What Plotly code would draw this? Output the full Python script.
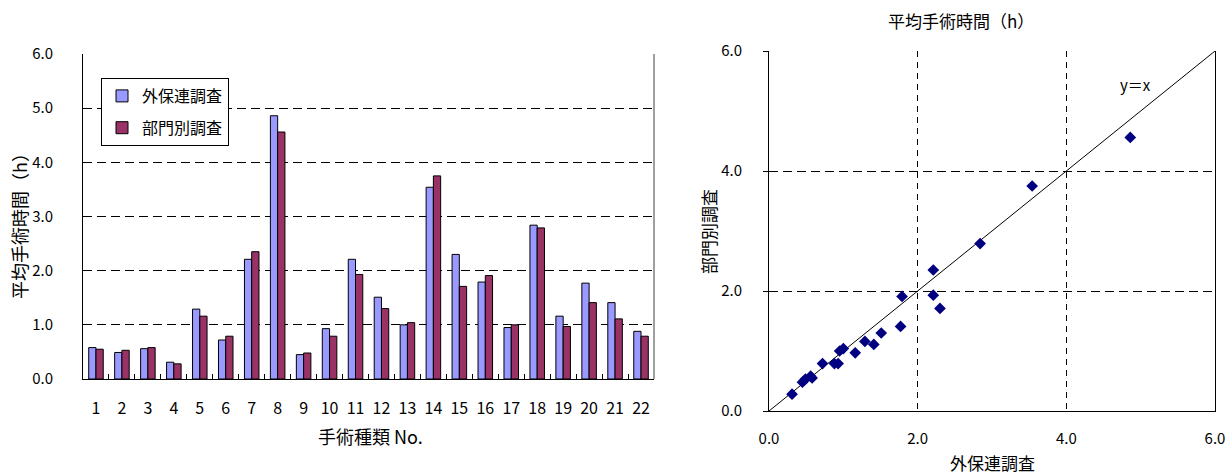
import plotly.graph_objects as go

# ---- data ----
categories = ["1", "2", "3", "4", "5", "6", "7", "8", "9", "10", "11",
              "12", "13", "14", "15", "16", "17", "18", "19", "20", "21", "22"]
gaihoren = [0.58, 0.49, 0.56, 0.31, 1.29, 0.72, 2.21, 4.86, 0.45, 0.93, 2.21,
            1.51, 1.00, 3.54, 2.30, 1.79, 0.95, 2.84, 1.16, 1.77, 1.41, 0.88]
bumon = [0.55, 0.53, 0.58, 0.28, 1.16, 0.79, 2.35, 4.56, 0.48, 0.79, 1.93,
         1.30, 1.04, 3.75, 1.71, 1.91, 1.00, 2.79, 0.97, 1.41, 1.11, 0.79]
series_names = ["外保連調査", "部門別調査"]
diag = [0.0, 6.0]
y_ticks = [0.0, 1.0, 2.0, 3.0, 4.0, 5.0, 6.0]
s_ticks = [0.0, 2.0, 4.0, 6.0]

W, H = 1232, 474
FONT = "Noto Sans CJK JP"


def px(x):
    return x / W


def py(y):
    return 1 - y / H


fig = go.Figure()

fig.add_trace(go.Bar(x=categories, y=gaihoren, name=series_names[0],
                     marker=dict(color="#9999FF", line=dict(color="black", width=1)),
                     xaxis="x", yaxis="y", legendgroup="a"))
fig.add_trace(go.Bar(x=categories, y=bumon, name=series_names[1],
                     marker=dict(color="#993366", line=dict(color="black", width=1)),
                     xaxis="x", yaxis="y", legendgroup="b"))

fig.add_trace(go.Scatter(x=diag, y=diag, mode="lines", line=dict(color="black", width=1),
                         xaxis="x2", yaxis="y2", showlegend=False, hoverinfo="skip"))
fig.add_trace(go.Scatter(x=gaihoren, y=bumon, mode="markers",
                         marker=dict(symbol="diamond", size=9, color="#000080"),
                         xaxis="x2", yaxis="y2", showlegend=False))

grid_dash = "9px,5px"

fig.update_layout(
    template="none",
    width=W, height=H,
    margin=dict(l=0, r=0, t=0, b=0, autoexpand=False),
    paper_bgcolor="white", plot_bgcolor="white",
    font=dict(family=FONT, size=15, color="black"),
    barmode="group", bargap=0.44, bargroupgap=0.0,
    showlegend=True,
    legend=dict(x=px(101), y=py(78), xanchor="left", yanchor="top",
                bordercolor="black", borderwidth=1, bgcolor="white",
                font=dict(family=FONT, size=16), traceorder="grouped",
                tracegroupgap=8, itemwidth=30),
    xaxis=dict(domain=[px(83), px(654)], anchor="y", type="category",
               automargin=False, tickangle=0,
               showline=True, linecolor="black", linewidth=1,
               ticks="inside", tickson="boundaries", ticklen=5, tickcolor="black",
               showgrid=False, ticklabelstandoff=15,
               tickfont=dict(family=FONT, size=16)),
    yaxis=dict(domain=[py(379), py(54)], anchor="x", range=[0, 6],
               automargin=False,
               tickvals=y_ticks, tickformat=".1f",
               showline=True, linecolor="black", linewidth=1,
               ticks="inside", ticklen=4, tickcolor="black",
               showgrid=True, gridcolor="black", gridwidth=1, griddash=grid_dash,
               zeroline=False, ticklabelstandoff=26,
               tickfont=dict(family=FONT, size=15)),
    xaxis2=dict(domain=[px(769), px(1215)], anchor="y2", range=[0, 6],
                automargin=False,
                tickvals=s_ticks, tickformat=".1f",
                showline=True, linecolor="black", linewidth=1,
                ticks="", showgrid=True, gridcolor="black", gridwidth=1,
                griddash="6px,5px", zeroline=False, ticklabelstandoff=14,
                tickfont=dict(family=FONT, size=15)),
    yaxis2=dict(domain=[py(411), py(51)], anchor="x2", range=[0, 6],
                automargin=False,
                tickvals=s_ticks, tickformat=".1f",
                showline=True, linecolor="black", linewidth=1, mirror=True,
                ticks="outside", ticklen=5, tickcolor="black",
                showgrid=True, gridcolor="black", gridwidth=1, griddash=grid_dash,
                zeroline=False, ticklabelstandoff=18,
                tickfont=dict(family=FONT, size=15)),
)

# right border of the bar plot area
fig.add_shape(type="line", xref="x domain", yref="y domain", x0=1, x1=1, y0=0, y1=1,
              line=dict(color="#808080", width=1.5))

fig.add_annotation(text="平均手術時間（h）", xref="paper", yref="paper",
                   x=px(19), y=py(222), textangle=-90, showarrow=False,
                   xanchor="center", yanchor="middle",
                   font=dict(family=FONT, size=18))
fig.add_annotation(text="手術種類 No.", xref="paper", yref="paper",
                   x=px(370), y=py(436), showarrow=False,
                   xanchor="center", yanchor="middle",
                   font=dict(family=FONT, size=18))
fig.add_annotation(text="平均手術時間（h）", xref="paper", yref="paper",
                   x=px(961), y=py(20), showarrow=False,
                   xanchor="center", yanchor="middle", font=dict(family=FONT, size=17))
fig.add_annotation(text="部門別調査", xref="paper", yref="paper",
                   x=px(708), y=py(232), textangle=-90, showarrow=False,
                   xanchor="center", yanchor="middle", font=dict(family=FONT, size=17))
fig.add_annotation(text="外保連調査", xref="paper", yref="paper",
                   x=px(992), y=py(462), showarrow=False,
                   xanchor="center", yanchor="middle", font=dict(family=FONT, size=17))
fig.add_annotation(text="y＝x", xref="x2", yref="y2", x=4.93, y=5.44,
                   showarrow=False, xanchor="center", yanchor="middle",
                   font=dict(family=FONT, size=15))

fig.write_html("out.html", config={"displayModeBar": False},
               post_script="document.body.style.margin='0';")
